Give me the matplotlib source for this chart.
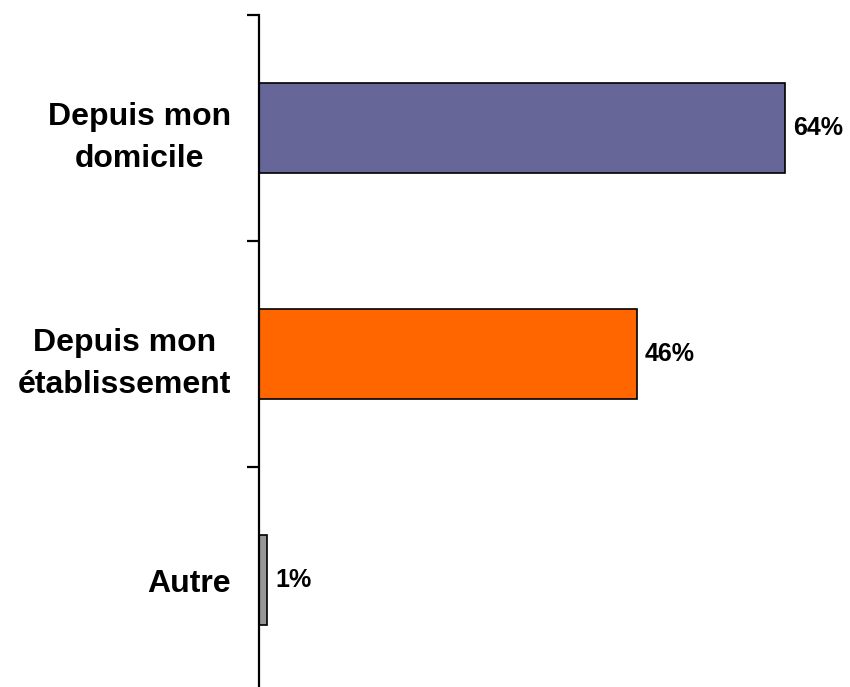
import matplotlib.pyplot as plt

plt.rcParams['font.family'] = ['Liberation Sans', 'DejaVu Sans']

# données
categories = ['Depuis mon\ndomicile', 'Depuis mon\nétablissement', 'Autre']
valeurs = [64, 46, 1]
couleurs = ['#666699', '#FF6600', '#969696']

fig = plt.figure(figsize=(8.5, 6.87), dpi=100)
ax = fig.add_axes([259 / 850, 1 - 693 / 687, 575 / 850, 678 / 687])

pos = list(range(len(categories)))
ax.barh(pos, valeurs, height=0.4, color=couleurs, edgecolor='black', linewidth=1.2)

for p, v in zip(pos, valeurs):
    ax.text(v + 1.0, p, f'{v}%', va='center', ha='left',
            fontsize=18, fontweight='bold')

ax.set_xlim(0, 70)
ax.set_ylim(2.5, -0.5)

# graduations aux limites, étiquettes au centre des catégories
ax.set_yticks([-0.5, 0.5, 1.5, 2.5])
ax.set_yticklabels([])
ax.set_yticks(pos, minor=True)
ax.set_yticklabels(categories, minor=True, fontsize=23, fontweight='bold',
                   multialignment='center', linespacing=1.55)
ax.tick_params(axis='y', which='major', length=8.6, width=1.6, direction='out')
ax.tick_params(axis='y', which='minor', length=0, pad=20)
ax.set_xticks([])

for s in ['top', 'right', 'bottom']:
    ax.spines[s].set_visible(False)
ax.spines['left'].set_linewidth(1.6)

plt.savefig('out.png', dpi=100)
